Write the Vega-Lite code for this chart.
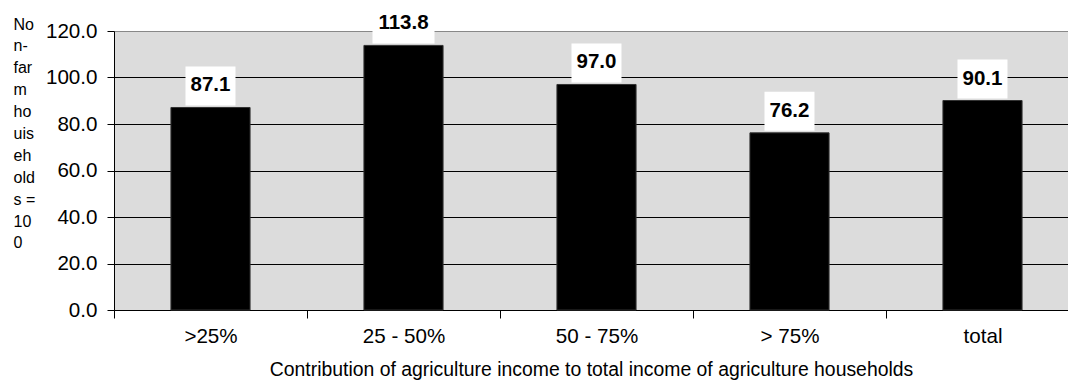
{
  "$schema": "https://vega.github.io/schema/vega-lite/v6.json",
  "autosize": "none",
  "padding": {"left": 114, "top": 31, "right": 0, "bottom": 70},
  "width": 954,
  "height": 279,
  "background": "white",
  "config": {
    "font": "Liberation Sans",
    "view": {"fill": "#dcdcdc", "stroke": null}
  },
  "data": {
    "values": [
      {"category": ">25%", "value": 87.1},
      {"category": "25 - 50%", "value": 113.8},
      {"category": "50 - 75%", "value": 97.0},
      {"category": "> 75%", "value": 76.2},
      {"category": "total", "value": 90.1}
    ]
  },
  "encoding": {
    "x": {
      "field": "category",
      "type": "nominal",
      "sort": null,
      "scale": {"range": [0, 965], "paddingInner": 0, "paddingOuter": 0},
      "axis": {
        "title": "Contribution of agriculture income to total income of agriculture households",
        "titleFontSize": 19.4,
        "titleFontWeight": "normal",
        "titleColor": "black",
        "titleX": 477,
        "titleY": 59,
        "titleBaseline": "middle",
        "labelAngle": 0,
        "labelFontSize": 20.6,
        "labelColor": "black",
        "labelPadding": 8,
        "tickBand": "extent",
        "tickSize": 8,
        "tickColor": "black",
        "domainColor": "black",
        "grid": false
      }
    },
    "y": {
      "field": "value",
      "type": "quantitative",
      "scale": {"domain": [0, 120], "nice": false},
      "axis": {
        "values": [0, 20, 40, 60, 80, 100, 120],
        "format": ".1f",
        "title": ["No", "n-", "far", "m", "ho", "uis", "eh", "old", "s =", "10", "0"],
        "titleAngle": 0,
        "titleAlign": "left",
        "titleBaseline": "alphabetic",
        "titleX": -101,
        "titleY": -2,
        "titleFontSize": 16,
        "titleFontWeight": "normal",
        "titleLineHeight": 21.9,
        "titleColor": "black",
        "labelFontSize": 20.6,
        "labelColor": "black",
        "labelPadding": 10,
        "tickSize": 7,
        "tickColor": "black",
        "domainColor": "black",
        "grid": true,
        "gridColor": {"condition": {"test": "datum.value == 120", "value": "#888888"}, "value": "black"},
        "gridOpacity": 1
      }
    }
  },
  "layer": [
    {
      "mark": {"type": "bar", "width": {"band": 0.41}, "color": "black", "stroke": "#333333", "strokeWidth": 1}
    },
    {
      "mark": {"type": "point", "filled": true, "color": "white", "opacity": 1, "size": 1521, "strokeWidth": 0, "clip": false},
      "encoding": {
        "shape": {
          "condition": {"test": "datum.value >= 100", "value": "M-1.59,-2.103 L1.59,-2.103 L1.59,-0.103 L-1.59,-0.103 Z"},
          "value": "M-1.282,-2.103 L1.282,-2.103 L1.282,-0.103 L-1.282,-0.103 Z"
        }
      }
    },
    {
      "mark": {"type": "text", "fontSize": 20.5, "fontWeight": "bold", "color": "black", "baseline": "middle", "dy": -22, "clip": false},
      "encoding": {
        "text": {"field": "value", "type": "quantitative", "format": ".1f"}
      }
    }
  ]
}
